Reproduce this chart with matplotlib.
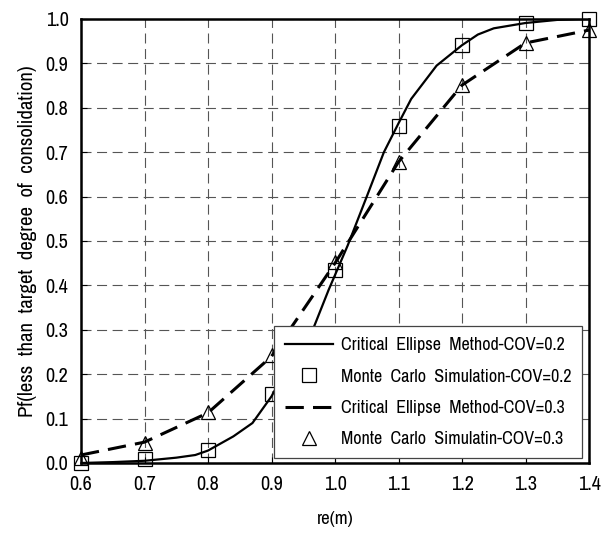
import matplotlib
matplotlib.use('Agg')
import matplotlib.pyplot as plt

plt.rcParams['font.family'] = ['Archivo Narrow', 'Roboto Condensed', 'DejaVu Sans']

# critical ellipse method, COV=0.2 (smooth curve)
ce02X = [0.6, 0.65, 0.7, 0.75, 0.78, 0.8, 0.84, 0.87, 0.9, 0.915, 0.94, 0.965, 0.99,
         1.02, 1.05, 1.077, 1.1, 1.12, 1.16, 1.2, 1.225, 1.25, 1.3, 1.35, 1.4]
ce02Y = [0.0, 0.002, 0.005, 0.012, 0.018, 0.028, 0.06, 0.09, 0.15, 0.19, 0.245, 0.3, 0.39,
         0.49, 0.6, 0.7, 0.765, 0.82, 0.895, 0.941, 0.965, 0.979, 0.991, 0.998, 1.0]

# monte carlo, COV=0.2
mc02X = [0.6, 0.7, 0.8, 0.9, 1.0, 1.1, 1.2, 1.3, 1.4]
mc02Y = [0.0, 0.01, 0.03, 0.155, 0.435, 0.76, 0.941, 0.99, 1.0]

# critical ellipse method, COV=0.3
ce03X = [0.6, 0.7, 0.8, 0.9, 1.0, 1.1, 1.2, 1.3, 1.4]
ce03Y = [0.018, 0.047, 0.113, 0.24, 0.45, 0.678, 0.851, 0.946, 0.975]

# monte carlo, COV=0.3
mc03X = [0.6, 0.7, 0.8, 0.9, 1.0, 1.1, 1.2, 1.3, 1.4]
mc03Y = [0.011, 0.045, 0.115, 0.243, 0.453, 0.678, 0.851, 0.946, 0.975]

labels = ['Critical  Ellipse  Method-COV=0.2',
          'Monte  Carlo  Simulation-COV=0.2',
          'Critical  Ellipse  Method-COV=0.3',
          'Monte  Carlo  Simulatin-COV=0.3']

fig = plt.figure(figsize=(6.02, 5.35), dpi=100)
ax = fig.add_axes([81 / 602, 1 - 463 / 535, 508 / 602, 444 / 535])

ax.plot(ce02X, ce02Y, color='black', linewidth=1.6, label=labels[0], zorder=3)
ax.plot(mc02X, mc02Y, linestyle='none', marker='s', markersize=10, markerfacecolor='none',
        markeredgecolor='black', markeredgewidth=0.9, label=labels[1], clip_on=False, zorder=4)
ax.plot(ce03X, ce03Y, color='black', linewidth=2.2, linestyle=(0, (6, 3)), label=labels[2], zorder=3)
ax.plot(mc03X, mc03Y, linestyle='none', marker='^', markersize=10, markerfacecolor='none',
        markeredgecolor='black', markeredgewidth=0.9, label=labels[3], clip_on=False, zorder=4)

ax.set_xlim(0.6, 1.4)
ax.set_ylim(0.0, 1.0)
ax.set_xticks([0.6 + 0.1 * i for i in range(9)])
ax.set_yticks([0.1 * i for i in range(11)])
ax.set_xticklabels(['%.1f' % (0.6 + 0.1 * i) for i in range(9)])
ax.set_yticklabels(['%.1f' % (0.1 * i) for i in range(11)])
ax.tick_params(direction='in', labelsize=14.5, length=4, width=0.8, pad=9)

ax.grid(True, color='#555555', linestyle=(0, (9, 5)), linewidth=0.8)
ax.set_axisbelow(True)
for s in ax.spines.values():
    s.set_linewidth(1.8)

ax.set_xlabel('re(m)', fontsize=13.5, labelpad=12)
ax.set_ylabel('Pf(less  than  target  degree  of  consolidation)', fontsize=15, labelpad=6)

leg = ax.legend(loc='lower right', bbox_to_anchor=(0.986, 0.011), fontsize=13,
                handlelength=2.7, handletextpad=0.4, labelspacing=0.85, borderpad=0.6,
                fancybox=False, framealpha=1, edgecolor='#444444', borderaxespad=0)
leg.get_frame().set_linewidth(0.9)
leg.set_zorder(5)

fig.savefig('out.png', dpi=100)
